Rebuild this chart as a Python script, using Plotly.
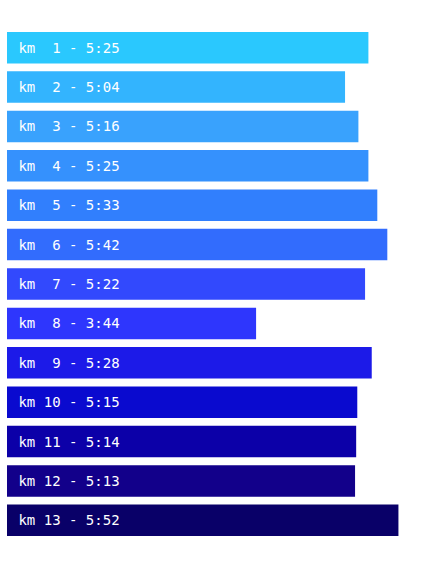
import plotly.graph_objects as go

km = list(range(1, 14))
pace_labels = ["5:25", "5:04", "5:16", "5:25", "5:33", "5:42", "5:22",
               "3:44", "5:28", "5:15", "5:14", "5:13", "5:52"]
colors = ["#2AC8FE", "#33B4FE", "#39A2FD", "#3591FD", "#317FFD", "#326CFD",
          "#3249FD", "#2E36FD", "#1C1AE8", "#0A0ACF", "#0C00A8", "#12008A", "#090068"]

def to_sec(s):
    m, sec = s.split(":")
    return int(m) * 60 + int(sec)

seconds = [to_sec(p) for p in pace_labels]
texts = ["\u00a0km\u00a0" + f"{k:>2}".replace(" ", "\u00a0") + "\u00a0-\u00a0" + p
         for k, p in zip(km, pace_labels)]

fig = go.Figure(go.Bar(
    x=seconds,
    y=[f"km {k}" for k in km],
    orientation="h",
    marker=dict(color=colors, line=dict(width=0)),
    width=0.8,
    text=texts,
    textposition="inside",
    insidetextanchor="start",
    textfont=dict(family="DejaVu Sans Mono", size=14, color="white"),
    hoverinfo="skip",
))

fig.update_layout(
    width=424, height=568,
    margin=dict(l=7, r=6, t=28, b=28),
    plot_bgcolor="white", paper_bgcolor="white",
    showlegend=False,
    uniformtext=dict(minsize=14, mode="show"),
    xaxis=dict(visible=False, range=[0, max(seconds) * 1.05]),
    yaxis=dict(visible=False, autorange="reversed"),
)

fig.write_html("out.html")
